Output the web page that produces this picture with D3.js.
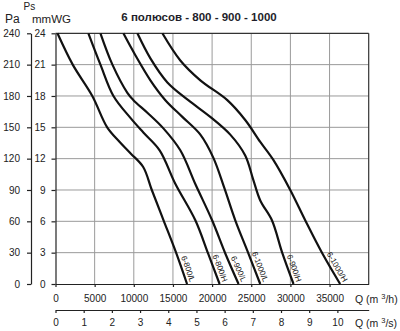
<!DOCTYPE html>
<html><head><meta charset="utf-8">
<script src="https://cdn.jsdelivr.net/npm/d3@7"></script>
<style>
body{margin:0;background:#fff;}
svg{display:block;font-family:"Liberation Sans",Arial,sans-serif;}
</style></head><body>
<svg id="c" width="400" height="331"></svg>
<script>
// ---- data (Q in m3/h, Ps in mmWG) ----
const curveNames = ["6-800/L","6-800/H","6-900/L","6-1000/L","6-900/H","6-1000/H"];
const c800L  = [[250,24],[2200,21],[4700,18],[6600,15],[8200,13.6],[9600,12.5],[11200,11.2],[12300,9],[13800,6.1],[15400,3],[16800,0]];
const c800H  = [[4200,24],[5740,21],[7400,18],[9570,15.9],[11220,14.5],[13300,12.8],[15300,9.6],[17860,6.1],[19500,2.9],[20960,0]];
const c900L  = [[5740,24],[7270,21],[9180,18.3],[9950,17.6],[11730,16.4],[13780,14.9],[15940,12.8],[17900,9.5],[20000,6.1],[21700,2.9],[23380,0]];
const c1000L = [[8670,24],[10200,21.9],[12120,19.5],[14030,17.6],[16200,16],[18500,14.3],[20150,12.1],[21560,9.2],[22960,6.1],[24620,2.96],[26150,0]];
const c900H  = [[10460,24],[12120,21.6],[14290,19.3],[16960,17.6],[19770,16],[22320,14.3],[24230,12.3],[25250,10],[26150,8],[27640,6.1],[28950,3],[30400,0]];
const c1000H = [[13650,24],[15940,21.4],[18500,19.5],[21940,17.6],[24230,15.7],[26150,13.6],[27800,11.9],[29980,9],[31890,6.1],[34050,2.96],[36350,0]];
const curves = [c800L,c800H,c900L,c1000L,c900H,c1000H];

const qTicks  = [0,5000,10000,15000,20000,25000,30000,35000];
const qsTicks = [0,1,2,3,4,5,6,7,8,9,10];
const pTicks  = [0,3,6,9,12,15,18,21,24];
const paTicks = [0,30,60,90,120,150,180,210,240];
const title = "6 полюсов - 800 - 900 - 1000";

// ---- layout ----
const svg = d3.select("#c");
const X0 = 55.5, X1 = 368.7, Y0 = 284, Y1 = 33.3;
const x  = d3.scaleLinear([0,40000],[X0,X1]);
const xs = d3.scaleLinear([0,40000/3600],[X0,X1]);
const y  = d3.scaleLinear([0,24],[Y0,Y1]);
const ypa= d3.scaleLinear([0,240],[Y0,Y1]);

// grid
const g = svg.append("g");
g.selectAll("line.v").data(qTicks.filter(d=>d>0)).join("line")
  .attr("x1",d=>x(d)).attr("x2",d=>x(d)).attr("y1",Y0).attr("y2",Y1)
  .attr("stroke","#9a9a9a").attr("stroke-width",1);
g.selectAll("line.h").data(pTicks.filter(d=>d>0&&d<24)).join("line")
  .attr("x1",X0).attr("x2",X1).attr("y1",d=>y(d)).attr("y2",d=>y(d))
  .attr("stroke","#9a9a9a").attr("stroke-width",1);
// top/right border
g.append("line").attr("x1",X0).attr("x2",X1).attr("y1",y(24)).attr("y2",y(24)).attr("stroke","#333").attr("stroke-width",1.2);
g.append("line").attr("x1",x(40000)).attr("x2",x(40000)).attr("y1",Y0).attr("y2",Y1).attr("stroke","#333").attr("stroke-width",1.2);

function styleAxis(sel){
  sel.selectAll("path,line").attr("stroke","#222").attr("stroke-width",1.2);
  sel.selectAll("text").attr("fill","#222").style("font-size","10px").style("font-family","'Liberation Sans',Arial,sans-serif");
}
// Pa axis
svg.append("g").attr("transform","translate(31,0)")
  .call(d3.axisLeft(ypa).tickValues(paTicks).tickSize(4).tickSizeOuter(0).tickPadding(7))
  .call(styleAxis);
// mmWG axis
svg.append("g").attr("transform",`translate(${X0},0)`)
  .call(d3.axisLeft(y).tickValues(pTicks).tickSize(4).tickSizeOuter(0).tickPadding(6))
  .call(styleAxis);
// Q m3/h axis
svg.append("g").attr("transform",`translate(0,${Y0})`)
  .call(d3.axisBottom(x).tickValues(qTicks).tickSize(3).tickSizeOuter(0).tickPadding(8).tickFormat(d3.format("d")))
  .call(styleAxis);
// Q m3/s axis
svg.append("g").attr("transform","translate(0,310)")
  .call(d3.axisBottom(xs).tickValues(qsTicks).tickSize(3).tickSizeOuter(0).tickPadding(6).tickFormat(d3.format("d")))
  .call(styleAxis);

// curves
const line = d3.line().x(d=>x(d[0])).y(d=>y(d[1])).curve(d3.curveCatmullRom.alpha(0.5));
svg.append("g").selectAll("path").data(curves).join("path")
  .attr("d",line).attr("fill","none").attr("stroke","#111").attr("stroke-width",2.2);

// curve labels
svg.append("g").selectAll("text").data(curves).join("text")
  .attr("transform",(d)=>{
    const a = d[d.length-2], b = d[d.length-1];
    const ang = Math.atan2(y(b[1])-y(a[1]), x(b[0])-x(a[0]))*180/Math.PI;
    return `translate(${x(b[0])+3},${y(b[1])-1.5}) rotate(${ang})`;
  })
  .attr("text-anchor","end").attr("fill","#111").style("font-size","8px")
  .text((d,i)=>curveNames[i]);

// titles
svg.append("text").attr("x",199).attr("y",21).attr("text-anchor","middle")
  .style("font-size","11.5px").style("font-weight","bold").attr("fill","#1e1e2a").text(title);
svg.append("text").attr("x",5).attr("y",23).style("font-size","12px").attr("fill","#222").text("Pa");
svg.append("text").attr("x",23.5).attr("y",10).style("font-size","10px").attr("fill","#222").text("Ps");
svg.append("text").attr("x",32).attr("y",22.5).style("font-size","11.5px").attr("fill","#222").text("mmWG");

function qLabel(yy, unit){
  const t = svg.append("text").attr("x",355).attr("y",yy).style("font-size","10.5px").attr("fill","#222");
  t.append("tspan").text("Q (m ");
  t.append("tspan").attr("dy",-4).style("font-size","7.5px").text("3");
  t.append("tspan").attr("dy",4).text("/"+unit+")");
}
qLabel(302.5,"h");
qLabel(327,"s");
</script>
</body></html>
